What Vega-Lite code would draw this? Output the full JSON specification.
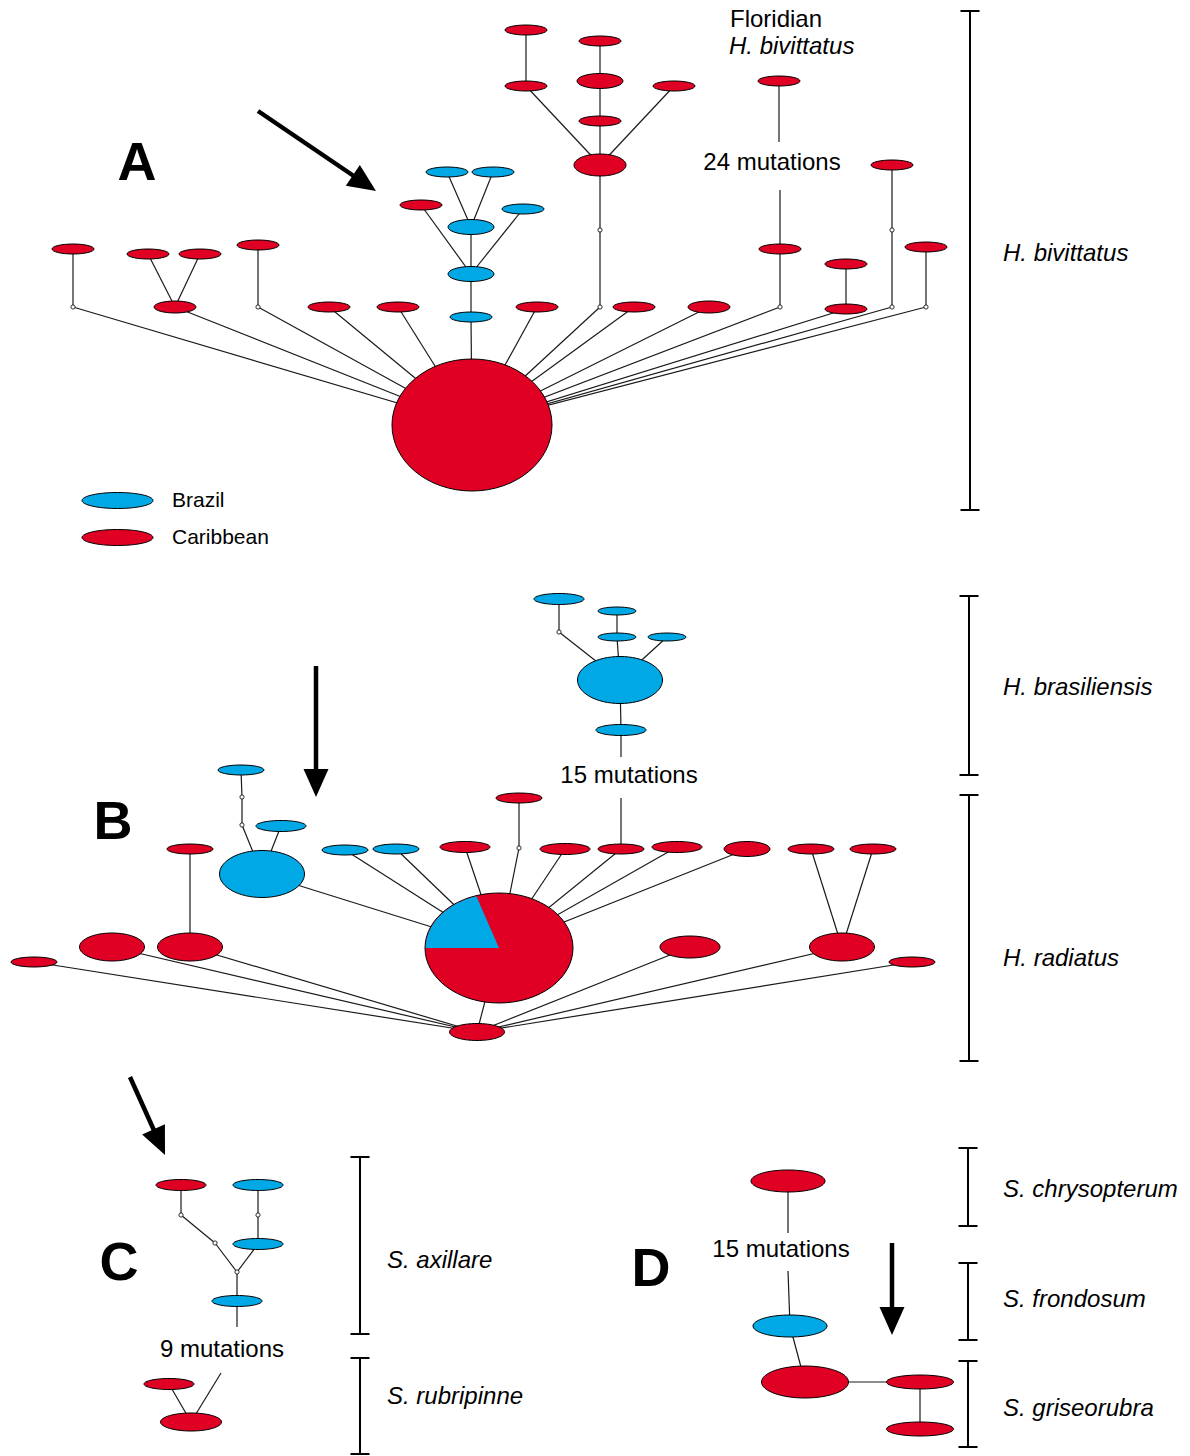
{
  "$schema": "https://vega.github.io/schema/vega-lite/v6.json",
  "width": 1190,
  "height": 1456,
  "autosize": {"type": "fit", "contains": "padding"},
  "padding": 0,
  "background": "white",
  "config": {"view": {"stroke": null}},
  "datasets": {
    "nodes": [
      {"id": "A0", "x": 472, "y": 425, "region": "Caribbean", "cls": "k16"},
      {"id": "A1", "x": 73, "y": 307, "region": "none", "cls": "v"},
      {"id": "A1a", "x": 73, "y": 249, "region": "Caribbean", "cls": "k1"},
      {"id": "A2", "x": 175, "y": 307, "region": "Caribbean", "cls": "k17"},
      {"id": "A2a", "x": 148, "y": 254, "region": "Caribbean", "cls": "k1"},
      {"id": "A2b", "x": 200, "y": 254, "region": "Caribbean", "cls": "k1"},
      {"id": "A3", "x": 258, "y": 307, "region": "none", "cls": "v"},
      {"id": "A3a", "x": 258, "y": 245, "region": "Caribbean", "cls": "k1"},
      {"id": "A4", "x": 329, "y": 307, "region": "Caribbean", "cls": "k1"},
      {"id": "A5", "x": 398, "y": 307, "region": "Caribbean", "cls": "k1"},
      {"id": "A6", "x": 471, "y": 317, "region": "Brazil", "cls": "k1"},
      {"id": "A6a", "x": 471, "y": 274, "region": "Brazil", "cls": "k5"},
      {"id": "A6b", "x": 471, "y": 227, "region": "Brazil", "cls": "k5"},
      {"id": "A6c", "x": 421, "y": 205, "region": "Caribbean", "cls": "k1"},
      {"id": "A6d", "x": 523, "y": 209, "region": "Brazil", "cls": "k1"},
      {"id": "A6e", "x": 447, "y": 172, "region": "Brazil", "cls": "k1"},
      {"id": "A6f", "x": 493, "y": 172, "region": "Brazil", "cls": "k1"},
      {"id": "A7", "x": 537, "y": 307, "region": "Caribbean", "cls": "k1"},
      {"id": "A8", "x": 600, "y": 307, "region": "none", "cls": "v"},
      {"id": "A8a", "x": 600, "y": 230, "region": "none", "cls": "v"},
      {"id": "A8b", "x": 600, "y": 165, "region": "Caribbean", "cls": "k6"},
      {"id": "A8c", "x": 526, "y": 86, "region": "Caribbean", "cls": "k1"},
      {"id": "A8d", "x": 526, "y": 30, "region": "Caribbean", "cls": "k1"},
      {"id": "A8e", "x": 600, "y": 121, "region": "Caribbean", "cls": "k1"},
      {"id": "A8f", "x": 600, "y": 81, "region": "Caribbean", "cls": "k5"},
      {"id": "A8g", "x": 600, "y": 41, "region": "Caribbean", "cls": "k1"},
      {"id": "A8h", "x": 674, "y": 86, "region": "Caribbean", "cls": "k1"},
      {"id": "A9", "x": 634, "y": 307, "region": "Caribbean", "cls": "k1"},
      {"id": "A10", "x": 709, "y": 307, "region": "Caribbean", "cls": "k17"},
      {"id": "A11", "x": 780, "y": 307, "region": "none", "cls": "v"},
      {"id": "A11a", "x": 780, "y": 249, "region": "Caribbean", "cls": "k1"},
      {"id": "A11d", "x": 779, "y": 81, "region": "Caribbean", "cls": "k1"},
      {"id": "A12", "x": 846, "y": 309, "region": "Caribbean", "cls": "k1"},
      {"id": "A12a", "x": 846, "y": 264, "region": "Caribbean", "cls": "k1"},
      {"id": "A13", "x": 892, "y": 307, "region": "none", "cls": "v"},
      {"id": "A13a", "x": 892, "y": 230, "region": "none", "cls": "v"},
      {"id": "A13b", "x": 892, "y": 165, "region": "Caribbean", "cls": "k1"},
      {"id": "A14", "x": 926, "y": 307, "region": "none", "cls": "v"},
      {"id": "A14a", "x": 926, "y": 247, "region": "Caribbean", "cls": "k1"},

      {"id": "B0", "x": 499, "y": 948, "region": "Caribbean", "cls": "k15"},
      {"id": "B0w", "x": 499, "y": 948, "region": "Brazil", "cls": "w"},
      {"id": "B1", "x": 477, "y": 1032, "region": "Caribbean", "cls": "k7"},
      {"id": "B2", "x": 34, "y": 962, "region": "Caribbean", "cls": "k2"},
      {"id": "B3", "x": 112, "y": 947, "region": "Caribbean", "cls": "k10"},
      {"id": "B4", "x": 190, "y": 947, "region": "Caribbean", "cls": "k10"},
      {"id": "B4a", "x": 190, "y": 849, "region": "Caribbean", "cls": "k2"},
      {"id": "B5", "x": 690, "y": 947, "region": "Caribbean", "cls": "k9"},
      {"id": "B6", "x": 842, "y": 947, "region": "Caribbean", "cls": "k10"},
      {"id": "B6a", "x": 811, "y": 849, "region": "Caribbean", "cls": "k2"},
      {"id": "B6b", "x": 873, "y": 849, "region": "Caribbean", "cls": "k2"},
      {"id": "B7", "x": 912, "y": 962, "region": "Caribbean", "cls": "k2"},
      {"id": "B8", "x": 262, "y": 874, "region": "Brazil", "cls": "k14"},
      {"id": "B8a", "x": 242, "y": 825, "region": "none", "cls": "v"},
      {"id": "B8b", "x": 242, "y": 797, "region": "none", "cls": "v"},
      {"id": "B8c", "x": 241, "y": 770, "region": "Brazil", "cls": "k2"},
      {"id": "B8d", "x": 281, "y": 826, "region": "Brazil", "cls": "k3"},
      {"id": "B9", "x": 345, "y": 850, "region": "Brazil", "cls": "k2"},
      {"id": "B10", "x": 396, "y": 849, "region": "Brazil", "cls": "k2"},
      {"id": "B11", "x": 465, "y": 847, "region": "Caribbean", "cls": "k3"},
      {"id": "B12", "x": 519, "y": 848, "region": "none", "cls": "v"},
      {"id": "B12a", "x": 519, "y": 798, "region": "Caribbean", "cls": "k2"},
      {"id": "B13", "x": 565, "y": 849, "region": "Caribbean", "cls": "k3"},
      {"id": "B14", "x": 621, "y": 849, "region": "Caribbean", "cls": "k2"},
      {"id": "B14c", "x": 621, "y": 730, "region": "Brazil", "cls": "k3"},
      {"id": "B14d", "x": 620, "y": 680, "region": "Brazil", "cls": "k14"},
      {"id": "B14e", "x": 559, "y": 632, "region": "none", "cls": "v"},
      {"id": "B14f", "x": 559, "y": 599, "region": "Brazil", "cls": "k3"},
      {"id": "B14g", "x": 617, "y": 637, "region": "Brazil", "cls": "k4"},
      {"id": "B14h", "x": 617, "y": 611, "region": "Brazil", "cls": "k4"},
      {"id": "B14i", "x": 667, "y": 637, "region": "Brazil", "cls": "k4"},
      {"id": "B15", "x": 677, "y": 847, "region": "Caribbean", "cls": "k3"},
      {"id": "B16", "x": 747, "y": 849, "region": "Caribbean", "cls": "k5"},

      {"id": "C1", "x": 181, "y": 1185, "region": "Caribbean", "cls": "k3"},
      {"id": "C1v", "x": 181, "y": 1215, "region": "none", "cls": "v"},
      {"id": "C2v", "x": 215, "y": 1243, "region": "none", "cls": "v"},
      {"id": "C3", "x": 258, "y": 1185, "region": "Brazil", "cls": "k3"},
      {"id": "C3v", "x": 258, "y": 1215, "region": "none", "cls": "v"},
      {"id": "C4", "x": 258, "y": 1244, "region": "Brazil", "cls": "k3"},
      {"id": "C5v", "x": 237, "y": 1272, "region": "none", "cls": "v"},
      {"id": "C6", "x": 237, "y": 1301, "region": "Brazil", "cls": "k3"},
      {"id": "C7", "x": 169, "y": 1384, "region": "Caribbean", "cls": "k3"},
      {"id": "C8", "x": 191, "y": 1422, "region": "Caribbean", "cls": "k8"},

      {"id": "D1", "x": 788, "y": 1181, "region": "Caribbean", "cls": "k11"},
      {"id": "D2", "x": 790, "y": 1326, "region": "Brazil", "cls": "k11"},
      {"id": "D3", "x": 805, "y": 1382, "region": "Caribbean", "cls": "k12"},
      {"id": "D4", "x": 920, "y": 1382, "region": "Caribbean", "cls": "k13"},
      {"id": "D5", "x": 920, "y": 1429, "region": "Caribbean", "cls": "k13"}
    ],
    "edges": [
      {"x1": 472, "y1": 425, "x2": 73, "y2": 307},
      {"x1": 472, "y1": 425, "x2": 175, "y2": 307},
      {"x1": 472, "y1": 425, "x2": 258, "y2": 307},
      {"x1": 472, "y1": 425, "x2": 329, "y2": 307},
      {"x1": 472, "y1": 425, "x2": 398, "y2": 307},
      {"x1": 472, "y1": 425, "x2": 471, "y2": 317},
      {"x1": 472, "y1": 425, "x2": 537, "y2": 307},
      {"x1": 472, "y1": 425, "x2": 600, "y2": 307},
      {"x1": 472, "y1": 425, "x2": 634, "y2": 307},
      {"x1": 472, "y1": 425, "x2": 709, "y2": 307},
      {"x1": 472, "y1": 425, "x2": 780, "y2": 307},
      {"x1": 472, "y1": 425, "x2": 846, "y2": 309},
      {"x1": 472, "y1": 425, "x2": 892, "y2": 307},
      {"x1": 472, "y1": 425, "x2": 926, "y2": 307},
      {"x1": 73, "y1": 307, "x2": 73, "y2": 249},
      {"x1": 175, "y1": 307, "x2": 148, "y2": 254},
      {"x1": 175, "y1": 307, "x2": 200, "y2": 254},
      {"x1": 258, "y1": 307, "x2": 258, "y2": 245},
      {"x1": 471, "y1": 317, "x2": 471, "y2": 274},
      {"x1": 471, "y1": 274, "x2": 471, "y2": 227},
      {"x1": 471, "y1": 274, "x2": 421, "y2": 205},
      {"x1": 471, "y1": 274, "x2": 523, "y2": 209},
      {"x1": 471, "y1": 227, "x2": 447, "y2": 172},
      {"x1": 471, "y1": 227, "x2": 493, "y2": 172},
      {"x1": 600, "y1": 307, "x2": 600, "y2": 230},
      {"x1": 600, "y1": 230, "x2": 600, "y2": 165},
      {"x1": 600, "y1": 165, "x2": 526, "y2": 86},
      {"x1": 526, "y1": 86, "x2": 526, "y2": 30},
      {"x1": 600, "y1": 165, "x2": 600, "y2": 121},
      {"x1": 600, "y1": 121, "x2": 600, "y2": 81},
      {"x1": 600, "y1": 81, "x2": 600, "y2": 41},
      {"x1": 600, "y1": 165, "x2": 674, "y2": 86},
      {"x1": 780, "y1": 307, "x2": 780, "y2": 249},
      {"x1": 780, "y1": 249, "x2": 780, "y2": 190},
      {"x1": 779, "y1": 142, "x2": 779, "y2": 81},
      {"x1": 846, "y1": 309, "x2": 846, "y2": 264},
      {"x1": 892, "y1": 307, "x2": 892, "y2": 230},
      {"x1": 892, "y1": 230, "x2": 892, "y2": 165},
      {"x1": 926, "y1": 307, "x2": 926, "y2": 247},

      {"x1": 499, "y1": 948, "x2": 477, "y2": 1032},
      {"x1": 499, "y1": 948, "x2": 262, "y2": 874},
      {"x1": 499, "y1": 948, "x2": 345, "y2": 850},
      {"x1": 499, "y1": 948, "x2": 396, "y2": 849},
      {"x1": 499, "y1": 948, "x2": 465, "y2": 847},
      {"x1": 499, "y1": 948, "x2": 519, "y2": 848},
      {"x1": 499, "y1": 948, "x2": 565, "y2": 849},
      {"x1": 499, "y1": 948, "x2": 621, "y2": 849},
      {"x1": 499, "y1": 948, "x2": 677, "y2": 847},
      {"x1": 499, "y1": 948, "x2": 747, "y2": 849},
      {"x1": 477, "y1": 1032, "x2": 34, "y2": 962},
      {"x1": 477, "y1": 1032, "x2": 112, "y2": 947},
      {"x1": 477, "y1": 1032, "x2": 190, "y2": 947},
      {"x1": 477, "y1": 1032, "x2": 690, "y2": 947},
      {"x1": 477, "y1": 1032, "x2": 842, "y2": 947},
      {"x1": 477, "y1": 1032, "x2": 912, "y2": 962},
      {"x1": 190, "y1": 947, "x2": 190, "y2": 849},
      {"x1": 842, "y1": 947, "x2": 811, "y2": 849},
      {"x1": 842, "y1": 947, "x2": 873, "y2": 849},
      {"x1": 262, "y1": 874, "x2": 242, "y2": 825},
      {"x1": 242, "y1": 825, "x2": 242, "y2": 797},
      {"x1": 242, "y1": 797, "x2": 241, "y2": 770},
      {"x1": 262, "y1": 874, "x2": 281, "y2": 826},
      {"x1": 519, "y1": 848, "x2": 519, "y2": 798},
      {"x1": 621, "y1": 849, "x2": 621, "y2": 798},
      {"x1": 621, "y1": 757, "x2": 621, "y2": 730},
      {"x1": 621, "y1": 730, "x2": 620, "y2": 680},
      {"x1": 620, "y1": 680, "x2": 559, "y2": 632},
      {"x1": 559, "y1": 632, "x2": 559, "y2": 599},
      {"x1": 620, "y1": 680, "x2": 617, "y2": 637},
      {"x1": 617, "y1": 637, "x2": 617, "y2": 611},
      {"x1": 620, "y1": 680, "x2": 667, "y2": 637},

      {"x1": 181, "y1": 1185, "x2": 181, "y2": 1215},
      {"x1": 181, "y1": 1215, "x2": 215, "y2": 1243},
      {"x1": 215, "y1": 1243, "x2": 237, "y2": 1272},
      {"x1": 258, "y1": 1185, "x2": 258, "y2": 1215},
      {"x1": 258, "y1": 1215, "x2": 258, "y2": 1244},
      {"x1": 258, "y1": 1244, "x2": 237, "y2": 1272},
      {"x1": 237, "y1": 1272, "x2": 237, "y2": 1301},
      {"x1": 237, "y1": 1301, "x2": 237, "y2": 1327},
      {"x1": 221, "y1": 1373, "x2": 191, "y2": 1422},
      {"x1": 169, "y1": 1384, "x2": 191, "y2": 1422},

      {"x1": 788, "y1": 1181, "x2": 788, "y2": 1233},
      {"x1": 788, "y1": 1271, "x2": 790, "y2": 1326},
      {"x1": 790, "y1": 1326, "x2": 805, "y2": 1382},
      {"x1": 805, "y1": 1382, "x2": 920, "y2": 1382},
      {"x1": 920, "y1": 1382, "x2": 920, "y2": 1429}
    ],
    "notes": [
      {"x": 776, "y": 20, "text": "Floridian"},
      {"x": 772, "y": 163, "text": "24 mutations"},
      {"x": 629, "y": 776, "text": "15 mutations"},
      {"x": 222, "y": 1350, "text": "9 mutations"},
      {"x": 781, "y": 1250, "text": "15 mutations"}
    ],
    "labels": [
      {"x": 729, "y": 47, "text": "H. bivittatus"},
      {"x": 1003, "y": 254, "text": "H. bivittatus"},
      {"x": 1003, "y": 688, "text": "H. brasiliensis"},
      {"x": 1003, "y": 959, "text": "H. radiatus"},
      {"x": 387, "y": 1261, "text": "S. axillare"},
      {"x": 387, "y": 1397, "text": "S. rubripinne"},
      {"x": 1003, "y": 1190, "text": "S. chrysopterum"},
      {"x": 1003, "y": 1300, "text": "S. frondosum"},
      {"x": 1003, "y": 1409, "text": "S. griseorubra"}
    ],
    "letters": [
      {"x": 137, "y": 164, "text": "A"},
      {"x": 113, "y": 823, "text": "B"},
      {"x": 119, "y": 1264, "text": "C"},
      {"x": 651, "y": 1270, "text": "D"}
    ],
    "brackets": [
      {"x": 970, "y1": 11, "y2": 510},
      {"x": 969, "y1": 596, "y2": 775},
      {"x": 969, "y1": 795, "y2": 1061},
      {"x": 360, "y1": 1157, "y2": 1334},
      {"x": 360, "y1": 1358, "y2": 1454},
      {"x": 968, "y1": 1148, "y2": 1226},
      {"x": 968, "y1": 1263, "y2": 1340},
      {"x": 968, "y1": 1361, "y2": 1447}
    ],
    "arrows": [
      {"x": 258, "y": 111, "bx": 356, "by": 177.5, "tx": 376, "ty": 191, "angle": 124.1},
      {"x": 316, "y": 666, "bx": 316, "by": 773, "tx": 316, "ty": 797, "angle": 180},
      {"x": 130, "y": 1077, "bx": 155.2, "by": 1133, "tx": 165, "ty": 1155, "angle": 155.8},
      {"x": 892, "y": 1243, "bx": 892, "by": 1311, "tx": 892, "ty": 1335, "angle": 180}
    ]
  },
  "layer": [
    {
      "data": {"name": "edges"},
      "mark": {"type": "rule", "color": "#1a1a1a", "strokeWidth": 1.2},
      "encoding": {
        "x": {"field": "x1", "type": "quantitative", "scale": {"domain": [0, 1190], "nice": false, "zero": false}, "axis": null},
        "y": {"field": "y1", "type": "quantitative", "scale": {"domain": [0, 1456], "nice": false, "zero": false, "reverse": true}, "axis": null},
        "x2": {"field": "x2"},
        "y2": {"field": "y2"}
      }
    },
    {
      "data": {"name": "nodes"},
      "transform": [{"filter": {"field": "cls", "oneOf": ["k1","k2","k3","k4","k5","k6","k7","k8","k9","k10","k11","k12","k13","k14","k15","k16","k17"]}}],
      "mark": {"type": "point", "filled": true, "opacity": 1, "size": 4, "stroke": "black", "strokeWidth": 1},
      "encoding": {
        "x": {"field": "x", "type": "quantitative", "scale": {"domain": [0, 1190], "nice": false, "zero": false}, "axis": null},
        "y": {"field": "y", "type": "quantitative", "scale": {"domain": [0, 1456], "nice": false, "zero": false, "reverse": true}, "axis": null},
        "color": {
          "field": "region", "type": "nominal",
          "scale": {"domain": ["Brazil", "Caribbean"], "range": ["#00a8e6", "#df0024"]},
          "legend": {
            "orient": "none", "legendX": 107, "legendY": 490, "title": null,
            "symbolType": "M-35.5,0C-35.5,-4.42,-19.61,-8,0,-8C19.61,-8,35.5,-4.42,35.5,0C35.5,4.42,19.61,8,0,8C-19.61,8,-35.5,4.42,-35.5,0Z",
            "symbolSize": 4, "symbolStrokeColor": "black", "symbolStrokeWidth": 1, "symbolOpacity": 1,
            "labelFont": "Liberation Sans", "labelFontSize": 21, "labelColor": "black", "labelOffset": 44,
            "rowPadding": 15
          }
        },
        "shape": {
          "field": "cls", "type": "nominal", "legend": null,
          "scale": {
            "domain": ["k1","k2","k3","k4","k5","k6","k7","k8","k9","k10","k11","k12","k13","k14","k15","k16","k17"],
            "range": [
              "M-21,0C-21,-2.76,-11.6,-5,0,-5C11.6,-5,21,-2.76,21,0C21,2.76,11.6,5,0,5C-11.6,5,-21,2.76,-21,0Z",
              "M-23,0C-23,-2.76,-12.7,-5,0,-5C12.7,-5,23,-2.76,23,0C23,2.76,12.7,5,0,5C-12.7,5,-23,2.76,-23,0Z",
              "M-25,0C-25,-3.04,-13.81,-5.5,0,-5.5C13.81,-5.5,25,-3.04,25,0C25,3.04,13.81,5.5,0,5.5C-13.81,5.5,-25,3.04,-25,0Z",
              "M-19,0C-19,-2.21,-10.49,-4,0,-4C10.49,-4,19,-2.21,19,0C19,2.21,10.49,4,0,4C-10.49,4,-19,2.21,-19,0Z",
              "M-23,0C-23,-4.14,-12.7,-7.5,0,-7.5C12.7,-7.5,23,-4.14,23,0C23,4.14,12.7,7.5,0,7.5C-12.7,7.5,-23,4.14,-23,0Z",
              "M-26,0C-26,-6.08,-14.36,-11,0,-11C14.36,-11,26,-6.08,26,0C26,6.08,14.36,11,0,11C-14.36,11,-26,6.08,-26,0Z",
              "M-27.5,0C-27.5,-4.69,-15.19,-8.5,0,-8.5C15.19,-8.5,27.5,-4.69,27.5,0C27.5,4.69,15.19,8.5,0,8.5C-15.19,8.5,-27.5,4.69,-27.5,0Z",
              "M-30.5,0C-30.5,-4.97,-16.85,-9,0,-9C16.85,-9,30.5,-4.97,30.5,0C30.5,4.97,16.85,9,0,9C-16.85,9,-30.5,4.97,-30.5,0Z",
              "M-30,0C-30,-6.08,-16.57,-11,0,-11C16.57,-11,30,-6.08,30,0C30,6.08,16.57,11,0,11C-16.57,11,-30,6.08,-30,0Z",
              "M-32.5,0C-32.5,-7.73,-17.95,-14,0,-14C17.95,-14,32.5,-7.73,32.5,0C32.5,7.73,17.95,14,0,14C-17.95,14,-32.5,7.73,-32.5,0Z",
              "M-37,0C-37,-6.08,-20.44,-11,0,-11C20.44,-11,37,-6.08,37,0C37,6.08,20.44,11,0,11C-20.44,11,-37,6.08,-37,0Z",
              "M-43.5,0C-43.5,-8.84,-24.03,-16,0,-16C24.03,-16,43.5,-8.84,43.5,0C43.5,8.84,24.03,16,0,16C-24.03,16,-43.5,8.84,-43.5,0Z",
              "M-33.5,0C-33.5,-3.87,-18.5,-7,0,-7C18.5,-7,33.5,-3.87,33.5,0C33.5,3.87,18.5,7,0,7C-18.5,7,-33.5,3.87,-33.5,0Z",
              "M-42.5,0C-42.5,-12.98,-23.47,-23.5,0,-23.5C23.47,-23.5,42.5,-12.98,42.5,0C42.5,12.98,23.47,23.5,0,23.5C-23.47,23.5,-42.5,12.98,-42.5,0Z",
              "M-74,0C-74,-30.38,-40.87,-55,0,-55C40.87,-55,74,-30.38,74,0C74,30.38,40.87,55,0,55C-40.87,55,-74,30.38,-74,0Z",
              "M-80,0C-80,-36.45,-44.18,-66,0,-66C44.18,-66,80,-36.45,80,0C80,36.45,44.18,66,0,66C-44.18,66,-80,36.45,-80,0Z",
              "M-21,0C-21,-3.31,-11.6,-6,0,-6C11.6,-6,21,-3.31,21,0C21,3.31,11.6,6,0,6C-11.6,6,-21,3.31,-21,0Z"
            ]
          }
        }
      }
    },
    {
      "data": {"name": "nodes"},
      "transform": [{"filter": {"field": "cls", "equal": "w"}}],
      "mark": {"type": "point", "filled": true, "opacity": 1, "size": 4, "fill": "#00a8e6", "strokeWidth": 0,
               "shape": "M0,0L-73.3,0C-73.3,-23.6,-52.8,-44.5,-22.6,-51.8Z"},
      "encoding": {
        "x": {"field": "x", "type": "quantitative", "scale": {"domain": [0, 1190], "nice": false, "zero": false}, "axis": null},
        "y": {"field": "y", "type": "quantitative", "scale": {"domain": [0, 1456], "nice": false, "zero": false, "reverse": true}, "axis": null}
      }
    },
    {
      "data": {"name": "nodes"},
      "transform": [{"filter": {"field": "cls", "equal": "v"}}],
      "mark": {"type": "point", "filled": true, "opacity": 1, "size": 18, "shape": "circle", "fill": "white", "stroke": "#1a1a1a", "strokeWidth": 0.9},
      "encoding": {
        "x": {"field": "x", "type": "quantitative", "scale": {"domain": [0, 1190], "nice": false, "zero": false}, "axis": null},
        "y": {"field": "y", "type": "quantitative", "scale": {"domain": [0, 1456], "nice": false, "zero": false, "reverse": true}, "axis": null}
      }
    },
    {
      "data": {"name": "arrows"},
      "mark": {"type": "rule", "color": "black", "strokeWidth": 4.5},
      "encoding": {
        "x": {"field": "x", "type": "quantitative", "scale": {"domain": [0, 1190], "nice": false, "zero": false}, "axis": null},
        "y": {"field": "y", "type": "quantitative", "scale": {"domain": [0, 1456], "nice": false, "zero": false, "reverse": true}, "axis": null},
        "x2": {"field": "bx"},
        "y2": {"field": "by"}
      }
    },
    {
      "data": {"name": "arrows"},
      "mark": {"type": "point", "filled": true, "opacity": 1, "size": 4, "fill": "black", "strokeWidth": 0,
               "shape": "M0,0L12.5,28L-12.5,28Z"},
      "encoding": {
        "x": {"field": "tx", "type": "quantitative", "scale": {"domain": [0, 1190], "nice": false, "zero": false}, "axis": null},
        "y": {"field": "ty", "type": "quantitative", "scale": {"domain": [0, 1456], "nice": false, "zero": false, "reverse": true}, "axis": null},
        "angle": {"field": "angle", "type": "quantitative", "scale": null}
      }
    },
    {
      "data": {"name": "brackets"},
      "mark": {"type": "rule", "color": "black", "strokeWidth": 2},
      "encoding": {
        "x": {"field": "x", "type": "quantitative", "scale": {"domain": [0, 1190], "nice": false, "zero": false}, "axis": null},
        "y": {"field": "y1", "type": "quantitative", "scale": {"domain": [0, 1456], "nice": false, "zero": false, "reverse": true}, "axis": null},
        "y2": {"field": "y2"}
      }
    },
    {
      "data": {"name": "brackets"},
      "mark": {"type": "rule", "color": "black", "strokeWidth": 2, "xOffset": -9.5, "x2Offset": 9.5},
      "encoding": {
        "x": {"field": "x", "type": "quantitative", "scale": {"domain": [0, 1190], "nice": false, "zero": false}, "axis": null},
        "x2": {"field": "x"},
        "y": {"field": "y1", "type": "quantitative", "scale": {"domain": [0, 1456], "nice": false, "zero": false, "reverse": true}, "axis": null},
        "y2": {"field": "y1"}
      }
    },
    {
      "data": {"name": "brackets"},
      "mark": {"type": "rule", "color": "black", "strokeWidth": 2, "xOffset": -9.5, "x2Offset": 9.5},
      "encoding": {
        "x": {"field": "x", "type": "quantitative", "scale": {"domain": [0, 1190], "nice": false, "zero": false}, "axis": null},
        "x2": {"field": "x"},
        "y": {"field": "y2", "type": "quantitative", "scale": {"domain": [0, 1456], "nice": false, "zero": false, "reverse": true}, "axis": null},
        "y2": {"field": "y2"}
      }
    },
    {
      "data": {"name": "notes"},
      "mark": {"type": "text", "font": "Liberation Sans", "fontSize": 24, "align": "center", "baseline": "middle", "color": "black"},
      "encoding": {
        "x": {"field": "x", "type": "quantitative", "scale": {"domain": [0, 1190], "nice": false, "zero": false}, "axis": null},
        "y": {"field": "y", "type": "quantitative", "scale": {"domain": [0, 1456], "nice": false, "zero": false, "reverse": true}, "axis": null},
        "text": {"field": "text"}
      }
    },
    {
      "data": {"name": "labels"},
      "mark": {"type": "text", "font": "Liberation Sans", "fontSize": 24, "fontStyle": "italic", "align": "left", "baseline": "middle", "color": "black"},
      "encoding": {
        "x": {"field": "x", "type": "quantitative", "scale": {"domain": [0, 1190], "nice": false, "zero": false}, "axis": null},
        "y": {"field": "y", "type": "quantitative", "scale": {"domain": [0, 1456], "nice": false, "zero": false, "reverse": true}, "axis": null},
        "text": {"field": "text"}
      }
    },
    {
      "data": {"name": "letters"},
      "mark": {"type": "text", "font": "Liberation Sans", "fontSize": 54, "fontWeight": "bold", "align": "center", "baseline": "middle", "color": "black"},
      "encoding": {
        "x": {"field": "x", "type": "quantitative", "scale": {"domain": [0, 1190], "nice": false, "zero": false}, "axis": null},
        "y": {"field": "y", "type": "quantitative", "scale": {"domain": [0, 1456], "nice": false, "zero": false, "reverse": true}, "axis": null},
        "text": {"field": "text"}
      }
    }
  ]
}
